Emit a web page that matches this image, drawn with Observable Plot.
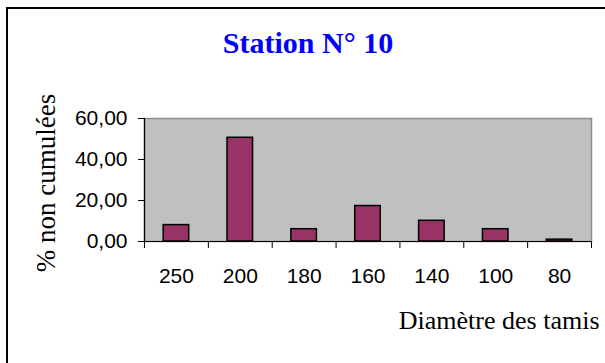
<!DOCTYPE html>
<html>
<head>
<meta charset="utf-8">
<script src="https://cdn.jsdelivr.net/npm/d3@7"></script>
<script src="https://cdn.jsdelivr.net/npm/@observablehq/plot@0.6"></script>
<style>
  html, body { margin: 0; padding: 0; background: #fff; overflow: hidden; }
  #wrap { position: relative; width: 605px; height: 363px; }
  #border { position: absolute; left: 6px; top: 7px; width: 700px; height: 500px; border: 2px solid #000; pointer-events: none; box-sizing: border-box; }
</style>
</head>
<body>
<div id="wrap"><div id="border"></div></div>
<script>
const categories = ["250", "200", "180", "160", "140", "100", "80"];
const values = [8.0, 50.6, 6.0, 17.3, 10.1, 6.0, 0.9];
const yTicks = [0, 20, 40, 60];
const title = "Station N° 10";
const xLabel = "Diamètre des tamis";
const yLabel = "% non cumulées";

const data = categories.map((c, i) => ({cat: c, i, v: values[i]}));
const idx = d3.range(categories.length + 1);
const fmt = d => d.toFixed(2).replace(".", ",");

const chart = Plot.plot({
  width: 605,
  height: 363,
  marginLeft: 144,
  marginRight: 14,
  marginTop: 118,
  marginBottom: 122,
  style: {background: "transparent", fontFamily: "'Liberation Sans', Arial, sans-serif"},
  x: {domain: [0, categories.length], axis: null},
  y: {domain: [0, 60], axis: null},
  marks: [
    Plot.frame({fill: "#c0c0c0", stroke: "#8c8c8c", strokeWidth: 1.5}),
    Plot.rect(data, {x1: d => d.i + 0.3, x2: d => d.i + 0.7, y1: 0, y2: "v", fill: "#993366", stroke: "#000", strokeWidth: 1.5}),
    Plot.ruleY([0], {stroke: "#000", strokeWidth: 1.2}),
    Plot.ruleX([0], {stroke: "#000", strokeWidth: 1.2}),
    Plot.axisY({ticks: yTicks, tickSize: 6, tickPadding: 11, tickFormat: fmt, fontSize: 21, label: null, stroke: "#000"}),
    Plot.axisX({ticks: idx, tickSize: 7, tickFormat: () => "", label: null, stroke: "#000"}),
    Plot.text(data, {x: d => d.i + 0.5, frameAnchor: "bottom", text: "cat", fontSize: 21, lineAnchor: "top", dy: 27, fill: "#000"}),
    Plot.text([title], {frameAnchor: "top", dx: -60, dy: -66, lineAnchor: "bottom", fontSize: 30, fontWeight: "bold", fontFamily: "'Liberation Serif', 'Times New Roman', serif", fill: "#0000ff"}),
    Plot.text([xLabel], {frameAnchor: "bottom-right", textAnchor: "end", lineAnchor: "bottom", dx: 8, dy: 87, fontSize: 26, fontFamily: "'Liberation Serif', 'Times New Roman', serif", fill: "#000"}),
    Plot.text([yLabel], {frameAnchor: "left", rotate: -90, textAnchor: "middle", lineAnchor: "bottom", dx: -90, dy: 3, fontSize: 27, fontFamily: "'Liberation Serif', 'Times New Roman', serif", fill: "#000"})
  ]
});
document.getElementById("wrap").prepend(chart);
</script>
</body>
</html>
